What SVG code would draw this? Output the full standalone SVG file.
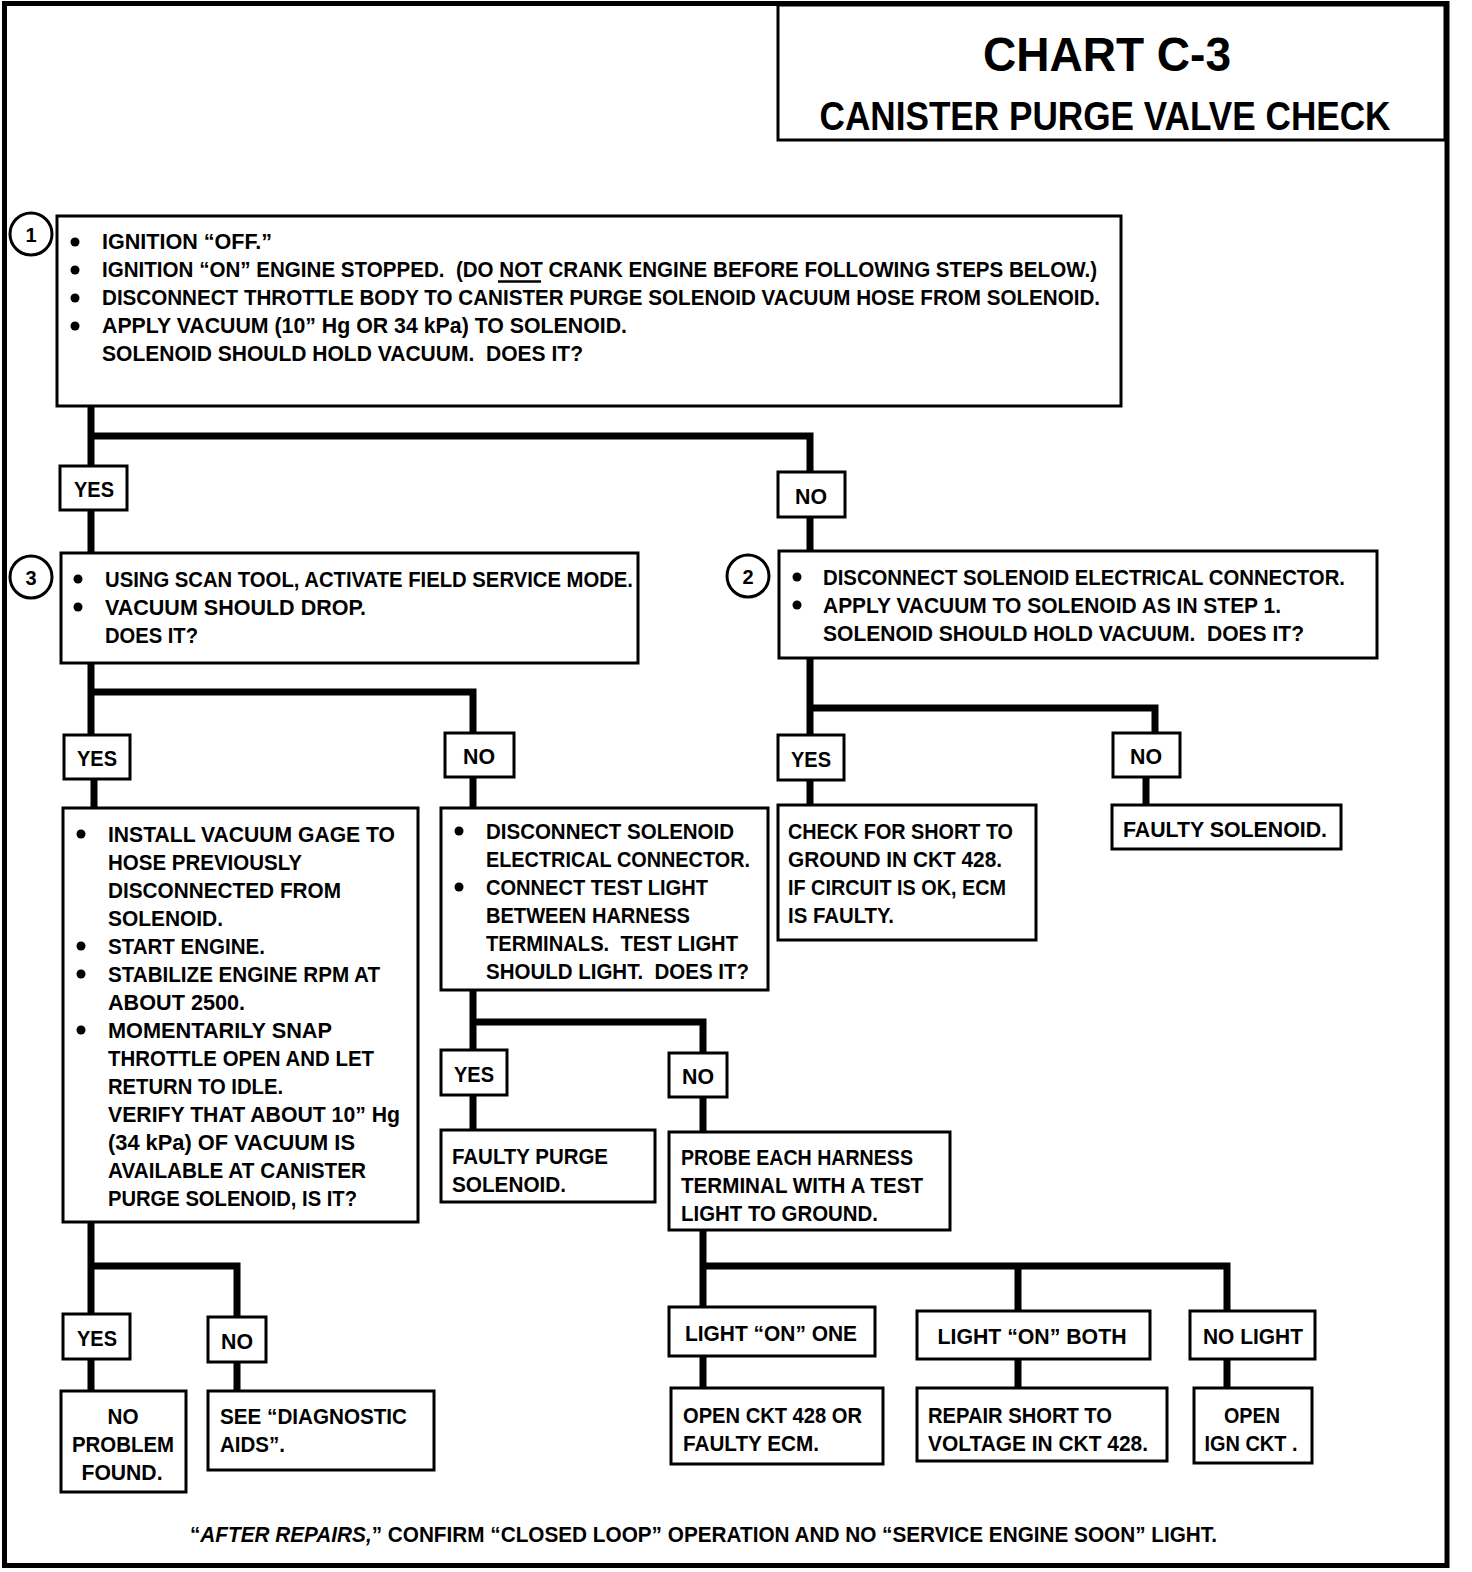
<svg xmlns="http://www.w3.org/2000/svg" width="1472" height="1572" viewBox="0 0 1472 1572">
<style>
.t{font-family:"Liberation Sans Narrow","Liberation Sans",Arial,sans-serif;font-weight:bold;font-size:22px;fill:#000}
.box{fill:#fff;stroke:#000;stroke-width:3}
.lbl{fill:#fff;stroke:#000;stroke-width:3}
.c{fill:none;stroke:#000;stroke-width:7;stroke-linejoin:miter;stroke-linecap:square}
.num{fill:#fff;stroke:#000;stroke-width:3}
.m{text-anchor:middle}
</style>
<rect x="0" y="0" width="1472" height="1572" fill="#fff"/>
<rect x="4.5" y="3.5" width="1442.5" height="1562" fill="none" stroke="#000" stroke-width="5"/>

<g id="title">
<rect x="778" y="5" width="667" height="135" class="box"/>
<text x="1107" y="71" class="t m" style="font-size:48px" textLength="248" lengthAdjust="spacingAndGlyphs">CHART C-3</text>
<text x="1105" y="130" class="t m" style="font-size:40px" textLength="571" lengthAdjust="spacingAndGlyphs">CANISTER PURGE VALVE CHECK</text>
</g>

<g id="connectors">
<path class="c" d="M91 406 V466 M91 510 V553 M91 436 H810 V472 M810 517 V551"/>
<path class="c" d="M91 663 V735 M91 692 H473 V733 M94 779 V808 M473 777 V808"/>
<path class="c" d="M810 658 V735 M810 708 H1155 V733 M810 780 V805 M1146 777 V805"/>
<path class="c" d="M473 990 V1050 M473 1022 H703 V1053 M473 1095 V1130 M703 1097 V1132"/>
<path class="c" d="M703 1230 V1307 M703 1266 H1227 V1311 M1018 1266 V1311 M703 1356 V1388 M1018 1359 V1388 M1227 1359 V1388"/>
<path class="c" d="M91 1222 V1314 M91 1266 H237 V1317 M91 1359 V1391 M237 1362 V1391"/>
</g>

<g id="step1">
<rect x="57" y="216" width="1064" height="190" class="box"/>
<circle cx="31" cy="234" r="21" class="num"/>
<text x="31" y="242" class="t m" style="font-size:20px">1</text>
<circle cx="75" cy="242" r="4.5"/><circle cx="75" cy="270" r="4.5"/><circle cx="75" cy="298" r="4.5"/><circle cx="75" cy="326" r="4.5"/>
<text x="102" y="249" class="t" textLength="170" lengthAdjust="spacingAndGlyphs">IGNITION “OFF.”</text>
<text x="102" y="277" class="t" textLength="995" lengthAdjust="spacingAndGlyphs">IGNITION “ON” ENGINE STOPPED.&#160; (DO NOT CRANK ENGINE BEFORE FOLLOWING STEPS BELOW.)</text>
<line x1="498" y1="281.5" x2="541" y2="281.5" stroke="#000" stroke-width="2.5"/>
<text x="102" y="305" class="t" textLength="998" lengthAdjust="spacingAndGlyphs">DISCONNECT THROTTLE BODY TO CANISTER PURGE SOLENOID VACUUM HOSE FROM SOLENOID.</text>
<text x="102" y="333" class="t" textLength="525" lengthAdjust="spacingAndGlyphs">APPLY VACUUM (10” Hg OR 34 kPa) TO SOLENOID.</text>
<text x="102" y="361" class="t" textLength="481" lengthAdjust="spacingAndGlyphs">SOLENOID SHOULD HOLD VACUUM.&#160; DOES IT?</text>
</g>

<g id="yes1"><rect x="60" y="466" width="67" height="44" class="lbl"/><text x="94" y="497" class="t m" textLength="40" lengthAdjust="spacingAndGlyphs">YES</text></g>
<g id="no1"><rect x="778" y="472" width="67" height="45" class="lbl"/><text x="811" y="504" class="t m" textLength="32" lengthAdjust="spacingAndGlyphs">NO</text></g>

<g id="step3">
<rect x="61" y="553" width="577" height="110" class="box"/>
<circle cx="31" cy="577" r="21" class="num"/>
<text x="31" y="585" class="t m" style="font-size:20px">3</text>
<circle cx="78" cy="579" r="4.5"/><circle cx="78" cy="607" r="4.5"/>
<text x="105" y="587" class="t" textLength="528" lengthAdjust="spacingAndGlyphs">USING SCAN TOOL, ACTIVATE FIELD SERVICE MODE.</text>
<text x="105" y="615" class="t" textLength="261" lengthAdjust="spacingAndGlyphs">VACUUM SHOULD DROP.</text>
<text x="105" y="643" class="t" textLength="93" lengthAdjust="spacingAndGlyphs">DOES IT?</text>
</g>

<g id="step2">
<rect x="779" y="551" width="598" height="107" class="box"/>
<circle cx="748" cy="576" r="21" class="num"/>
<text x="748" y="584" class="t m" style="font-size:20px">2</text>
<circle cx="797" cy="577" r="4.5"/><circle cx="797" cy="605" r="4.5"/>
<text x="823" y="585" class="t" textLength="522" lengthAdjust="spacingAndGlyphs">DISCONNECT SOLENOID ELECTRICAL CONNECTOR.</text>
<text x="823" y="613" class="t" textLength="458" lengthAdjust="spacingAndGlyphs">APPLY VACUUM TO SOLENOID AS IN STEP 1.</text>
<text x="823" y="641" class="t" textLength="481" lengthAdjust="spacingAndGlyphs">SOLENOID SHOULD HOLD VACUUM.&#160; DOES IT?</text>
</g>

<g id="yes3"><rect x="64" y="735" width="66" height="44" class="lbl"/><text x="97" y="766" class="t m" textLength="40" lengthAdjust="spacingAndGlyphs">YES</text></g>
<g id="no3"><rect x="445" y="733" width="69" height="44" class="lbl"/><text x="479" y="764" class="t m" textLength="32" lengthAdjust="spacingAndGlyphs">NO</text></g>
<g id="yes2"><rect x="778" y="735" width="66" height="45" class="lbl"/><text x="811" y="767" class="t m" textLength="40" lengthAdjust="spacingAndGlyphs">YES</text></g>
<g id="no2"><rect x="1113" y="733" width="67" height="44" class="lbl"/><text x="1146" y="764" class="t m" textLength="32" lengthAdjust="spacingAndGlyphs">NO</text></g>

<g id="gage">
<rect x="63" y="808" width="355" height="414" class="box"/>
<circle cx="81" cy="834" r="4.5"/><circle cx="81" cy="946" r="4.5"/><circle cx="81" cy="974" r="4.5"/><circle cx="81" cy="1030" r="4.5"/>
<text x="108" y="842" class="t" textLength="287" lengthAdjust="spacingAndGlyphs">INSTALL VACUUM GAGE TO</text>
<text x="108" y="870" class="t" textLength="194" lengthAdjust="spacingAndGlyphs">HOSE PREVIOUSLY</text>
<text x="108" y="898" class="t" textLength="233" lengthAdjust="spacingAndGlyphs">DISCONNECTED FROM</text>
<text x="108" y="926" class="t" textLength="115" lengthAdjust="spacingAndGlyphs">SOLENOID.</text>
<text x="108" y="954" class="t" textLength="157" lengthAdjust="spacingAndGlyphs">START ENGINE.</text>
<text x="108" y="982" class="t" textLength="272" lengthAdjust="spacingAndGlyphs">STABILIZE ENGINE RPM AT</text>
<text x="108" y="1010" class="t" textLength="137" lengthAdjust="spacingAndGlyphs">ABOUT 2500.</text>
<text x="108" y="1038" class="t" textLength="224" lengthAdjust="spacingAndGlyphs">MOMENTARILY SNAP</text>
<text x="108" y="1066" class="t" textLength="266" lengthAdjust="spacingAndGlyphs">THROTTLE OPEN AND LET</text>
<text x="108" y="1094" class="t" textLength="175" lengthAdjust="spacingAndGlyphs">RETURN TO IDLE.</text>
<text x="108" y="1122" class="t" textLength="292" lengthAdjust="spacingAndGlyphs">VERIFY THAT ABOUT 10” Hg</text>
<text x="108" y="1150" class="t" textLength="247" lengthAdjust="spacingAndGlyphs">(34 kPa) OF VACUUM IS</text>
<text x="108" y="1178" class="t" textLength="258" lengthAdjust="spacingAndGlyphs">AVAILABLE AT CANISTER</text>
<text x="108" y="1206" class="t" textLength="249" lengthAdjust="spacingAndGlyphs">PURGE SOLENOID, IS IT?</text>
</g>

<g id="testlight">
<rect x="441" y="808" width="327" height="182" class="box"/>
<circle cx="459" cy="831" r="4.5"/><circle cx="459" cy="887" r="4.5"/>
<text x="486" y="839" class="t" textLength="248" lengthAdjust="spacingAndGlyphs">DISCONNECT SOLENOID</text>
<text x="486" y="867" class="t" textLength="264" lengthAdjust="spacingAndGlyphs">ELECTRICAL CONNECTOR.</text>
<text x="486" y="895" class="t" textLength="222" lengthAdjust="spacingAndGlyphs">CONNECT TEST LIGHT</text>
<text x="486" y="923" class="t" textLength="204" lengthAdjust="spacingAndGlyphs">BETWEEN HARNESS</text>
<text x="486" y="951" class="t" textLength="252" lengthAdjust="spacingAndGlyphs">TERMINALS.&#160; TEST LIGHT</text>
<text x="486" y="979" class="t" textLength="263" lengthAdjust="spacingAndGlyphs">SHOULD LIGHT.&#160; DOES IT?</text>
</g>

<g id="shortgnd">
<rect x="778" y="805" width="258" height="135" class="box"/>
<text x="788" y="839" class="t" textLength="225" lengthAdjust="spacingAndGlyphs">CHECK FOR SHORT TO</text>
<text x="788" y="867" class="t" textLength="214" lengthAdjust="spacingAndGlyphs">GROUND IN CKT 428.</text>
<text x="788" y="895" class="t" textLength="218" lengthAdjust="spacingAndGlyphs">IF CIRCUIT IS OK, ECM</text>
<text x="788" y="923" class="t" textLength="106" lengthAdjust="spacingAndGlyphs">IS FAULTY.</text>
</g>

<g id="faultysol">
<rect x="1112" y="805" width="229" height="44" class="box"/>
<text x="1123" y="837" class="t" textLength="204" lengthAdjust="spacingAndGlyphs">FAULTY SOLENOID.</text>
</g>

<g id="yes4"><rect x="441" y="1050" width="66" height="45" class="lbl"/><text x="474" y="1082" class="t m" textLength="40" lengthAdjust="spacingAndGlyphs">YES</text></g>
<g id="no4"><rect x="669" y="1053" width="58" height="44" class="lbl"/><text x="698" y="1084" class="t m" textLength="32" lengthAdjust="spacingAndGlyphs">NO</text></g>

<g id="faultypurge">
<rect x="441" y="1130" width="214" height="72" class="box"/>
<text x="452" y="1164" class="t" textLength="156" lengthAdjust="spacingAndGlyphs">FAULTY PURGE</text>
<text x="452" y="1192" class="t" textLength="114" lengthAdjust="spacingAndGlyphs">SOLENOID.</text>
</g>

<g id="probe">
<rect x="669" y="1132" width="281" height="98" class="box"/>
<text x="681" y="1165" class="t" textLength="232" lengthAdjust="spacingAndGlyphs">PROBE EACH HARNESS</text>
<text x="681" y="1193" class="t" textLength="242" lengthAdjust="spacingAndGlyphs">TERMINAL WITH A TEST</text>
<text x="681" y="1221" class="t" textLength="197" lengthAdjust="spacingAndGlyphs">LIGHT TO GROUND.</text>
</g>

<g id="yes5"><rect x="63" y="1314" width="67" height="45" class="lbl"/><text x="97" y="1346" class="t m" textLength="40" lengthAdjust="spacingAndGlyphs">YES</text></g>
<g id="no5"><rect x="208" y="1317" width="58" height="45" class="lbl"/><text x="237" y="1349" class="t m" textLength="32" lengthAdjust="spacingAndGlyphs">NO</text></g>

<g id="noproblem">
<rect x="61" y="1391" width="125" height="101" class="box"/>
<text x="123" y="1424" class="t m" textLength="31" lengthAdjust="spacingAndGlyphs">NO</text>
<text x="123" y="1452" class="t m" textLength="102" lengthAdjust="spacingAndGlyphs">PROBLEM</text>
<text x="122" y="1480" class="t m" textLength="81" lengthAdjust="spacingAndGlyphs">FOUND.</text>
</g>

<g id="diagaids">
<rect x="208" y="1391" width="226" height="79" class="box"/>
<text x="220" y="1424" class="t" textLength="187" lengthAdjust="spacingAndGlyphs">SEE “DIAGNOSTIC</text>
<text x="220" y="1452" class="t" textLength="65" lengthAdjust="spacingAndGlyphs">AIDS”.</text>
</g>

<g id="lightone"><rect x="669" y="1307" width="206" height="49" class="lbl"/><text x="771" y="1341" class="t m" textLength="172" lengthAdjust="spacingAndGlyphs">LIGHT “ON” ONE</text></g>
<g id="lightboth"><rect x="917" y="1311" width="233" height="48" class="lbl"/><text x="1032" y="1344" class="t m" textLength="189" lengthAdjust="spacingAndGlyphs">LIGHT “ON” BOTH</text></g>
<g id="nolight"><rect x="1190" y="1311" width="125" height="48" class="lbl"/><text x="1253" y="1344" class="t m" textLength="100" lengthAdjust="spacingAndGlyphs">NO LIGHT</text></g>

<g id="openckt">
<rect x="671" y="1388" width="212" height="76" class="box"/>
<text x="683" y="1423" class="t" textLength="179" lengthAdjust="spacingAndGlyphs">OPEN CKT 428 OR</text>
<text x="683" y="1451" class="t" textLength="136" lengthAdjust="spacingAndGlyphs">FAULTY ECM.</text>
</g>
<g id="repairshort">
<rect x="917" y="1388" width="250" height="73" class="box"/>
<text x="928" y="1423" class="t" textLength="184" lengthAdjust="spacingAndGlyphs">REPAIR SHORT TO</text>
<text x="928" y="1451" class="t" textLength="220" lengthAdjust="spacingAndGlyphs">VOLTAGE IN CKT 428.</text>
</g>
<g id="openign">
<rect x="1194" y="1388" width="118" height="75" class="box"/>
<text x="1252" y="1423" class="t m" textLength="56" lengthAdjust="spacingAndGlyphs">OPEN</text>
<text x="1251" y="1451" class="t m" textLength="93" lengthAdjust="spacingAndGlyphs">IGN CKT .</text>
</g>

<g id="footer">
<text x="190" y="1542" class="t" textLength="1027" lengthAdjust="spacingAndGlyphs">“<tspan font-style="italic">AFTER REPAIRS,</tspan>” CONFIRM “CLOSED LOOP” OPERATION AND NO “SERVICE ENGINE SOON” LIGHT.</text>
</g>
</svg>
